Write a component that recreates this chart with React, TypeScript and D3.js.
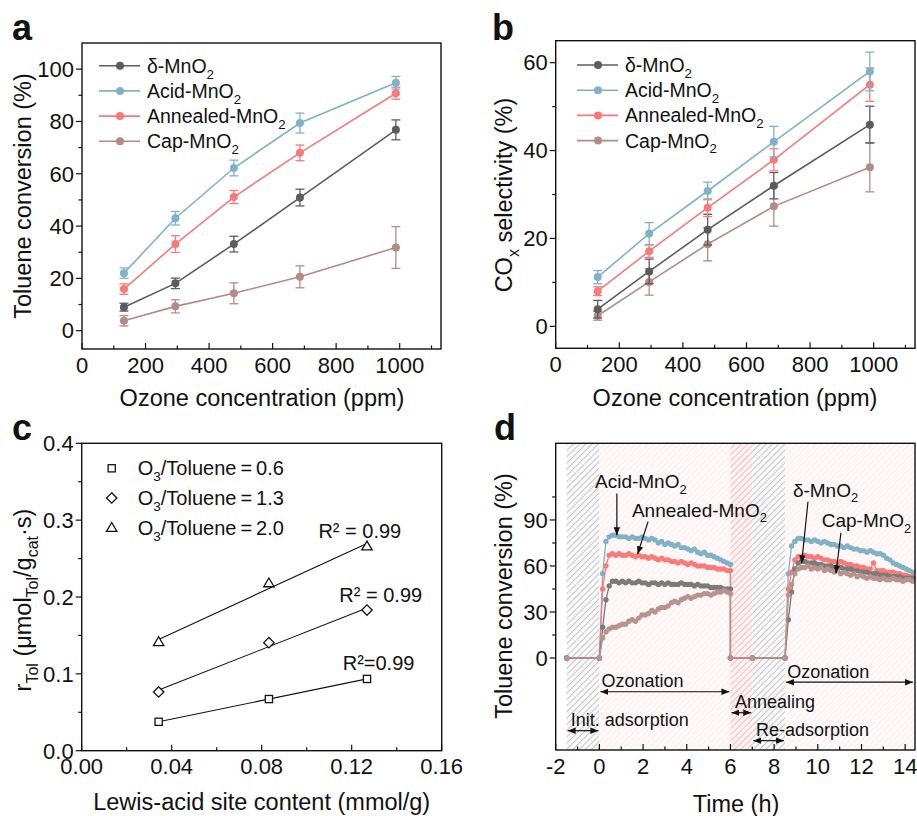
import React from "react";
import * as d3 from "d3";

const FONT = "'Liberation Sans', Arial, Helvetica, sans-serif";

// ---------------- Panel a / b data ----------------
const ozonePpm = [132, 294, 478, 686, 988];
const seriesNames = ["δ-MnO", "Acid-MnO", "Annealed-MnO", "Cap-MnO"];
const seriesColors = ["#5c5c5c", "#7fb2c8", "#f77a79", "#b38a85"];

const convDelta = [9, 18.1, 33.1, 50.9, 76.8];
const convDeltaErr = [1.5, 2, 3, 3.2, 3.8];
const convAcid = [22, 43, 62.2, 79.4, 94.8];
const convAcidErr = [2, 2.6, 3, 3.8, 2.4];
const convAnnealed = [15.9, 33.1, 51.1, 68, 90.8];
const convAnnealedErr = [2, 3.2, 2.5, 3, 2.3];
const convCap = [3.8, 9.3, 14.3, 20.6, 31.8];
const convCapErr = [2, 2.5, 4, 4.2, 8];

const selDelta = [3.9, 12.5, 22, 32, 45.9];
const selDeltaErr = [2, 2.8, 3.5, 3, 4.2];
const selAcid = [11.2, 21.1, 30.8, 42, 58];
const selAcidErr = [1.5, 2.5, 2, 3.5, 4.4];
const selAnnealed = [8, 17.1, 27, 37.9, 55];
const selAnnealedErr = [1, 1.4, 2, 2.5, 3.8];
const selCap = [2.4, 10.1, 18.7, 27.3, 36.2];
const selCapErr = [1, 3, 3.8, 4.5, 5.6];

const ozoneTicks = [0, 200, 400, 600, 800, 1000];
const ozoneMinor = [100, 300, 500, 700, 900, 1100];
const convTicks = [0, 20, 40, 60, 80, 100];
const convMinor = [10, 30, 50, 70, 90];
const selTicks = [0, 20, 40, 60];
const selMinor = [10, 30, 50];

// ---------------- Panel c data ----------------
const lewisAcid = [0.0342, 0.0832, 0.1268];
const rate06 = [0.0376, 0.0672, 0.0934];
const rate13 = [0.0764, 0.1406, 0.183];
const rate20 = [0.1415, 0.218, 0.266];
const ratioLabels = ["0.6", "1.3", "2.0"];
const r2Labels = ["R²=0.99", "R² = 0.99", "R² = 0.99"];
const lewisTicks = [0, 0.04, 0.08, 0.12, 0.16];
const lewisMinor = [0.02, 0.06, 0.1, 0.14];
const rateTicks = [0, 0.1, 0.2, 0.3, 0.4];
const rateMinor = [0.05, 0.15, 0.25, 0.35];

// ---------------- Panel d data ----------------
const tInit = [-1.5, 0];
const tIdle = [6, 7];
const tRun1 = [0, 0.15, 0.3, 0.45, 0.6, 0.75, 0.9, 1.05, 1.2, 1.35, 1.5, 1.65, 1.8, 1.95, 2.1, 2.25, 2.4, 2.55, 2.7, 2.85, 3, 3.15, 3.3, 3.45, 3.6, 3.75, 3.9, 4.05, 4.2, 4.35, 4.5, 4.65, 4.8, 4.95, 5.1, 5.25, 5.4, 5.55, 5.7, 5.85, 6];
const tRun2 = [8.5, 8.65, 8.8, 8.95, 9.1, 9.25, 9.4, 9.55, 9.7, 9.85, 10, 10.15, 10.3, 10.45, 10.6, 10.75, 10.9, 11.05, 11.2, 11.35, 11.5, 11.65, 11.8, 11.95, 12.1, 12.25, 12.4, 12.55, 12.7, 12.85, 13, 13.15, 13.3, 13.45, 13.6, 13.75, 13.9, 14.05, 14.2, 14.35];

const acidRun1 = [0, 55, 76, 79, 80, 80, 79, 79, 79, 78, 79, 78, 78, 79, 78, 77, 78, 77, 75, 76, 74, 75, 74, 73, 74, 72, 72, 71, 70, 71, 69, 68, 69, 67, 67, 66, 65, 64, 63, 62, 61];
const annealedRun1 = [0, 45, 60, 67, 68, 67, 68, 67, 67, 68, 67, 66, 67, 66, 66, 65, 66, 65, 64, 65, 64, 64, 63, 63, 62, 63, 62, 61, 62, 61, 60, 60, 60, 59, 59, 59, 58, 58, 58, 57, 57];
const deltaRun1 = [0, 20, 38, 47, 50, 50, 49, 50, 49, 50, 49, 49, 50, 49, 49, 48, 49, 49, 48, 49, 48, 49, 48, 48, 48, 49, 48, 48, 48, 47, 48, 47, 47, 47, 46, 46, 46, 46, 45, 45, 45];
const capRun1 = [0, 13, 17, 19, 20, 20, 21, 22, 22, 24, 25, 24, 26, 28, 28, 29, 31, 30, 32, 33, 33, 34, 36, 37, 36, 38, 39, 40, 39, 40, 41, 41, 42, 42, 41, 42, 43, 43, 44, 43, 42];

const acidRun2 = [0, 55, 73, 76, 78, 78, 77, 77, 76, 77, 76, 75, 76, 75, 74, 74, 73, 73, 72, 73, 72, 71, 71, 70, 70, 69, 70, 69, 68, 68, 67, 65, 64, 62, 61, 60, 59, 58, 57, 56];
const annealedRun2 = [0, 45, 56, 64, 66, 66, 67, 66, 66, 65, 66, 65, 64, 64, 63, 63, 62, 63, 62, 61, 61, 60, 60, 59, 59, 58, 58, 62, 57, 57, 57, 56, 56, 56, 55, 55, 54, 54, 53, 53];
const deltaRun2 = [0, 25, 43, 58, 62, 63, 63, 62, 62, 62, 61, 61, 60, 60, 60, 59, 59, 59, 58, 58, 58, 57, 57, 56, 56, 56, 55, 55, 55, 54, 54, 54, 53, 53, 53, 53, 52, 52, 52, 52];
const capRun2 = [0, 41, 48, 55, 58, 59, 59, 60, 58, 59, 58, 59, 57, 58, 57, 56, 57, 55, 56, 55, 54, 55, 53, 54, 53, 52, 53, 52, 52, 51, 52, 51, 51, 52, 51, 51, 50, 51, 51, 50];

const dColors = ["#7fb1c7", "#f87b7a", "#7b7b7b", "#b9928d"];
const timeTicks = [-2, 0, 2, 4, 6, 8, 10, 12, 14];
const timeMinor = [-1, 1, 3, 5, 7, 9, 11, 13];
const dTicks = [0, 30, 60, 90];
const dMinor = [15, 45, 75, 105];

// phases: [start, end, pattern]
const phaseStart = [-1.5, 0, 6, 7, 8.5];
const phaseEnd = [0, 6, 7, 8.5, 14.45];
const phaseFill = ["url(#hGray)", "url(#hPink)", "url(#hRed)", "url(#hGray)", "url(#hPink)"];

// ---------------- helpers ----------------
type Part = { t: string; sub?: boolean };

function Rich(props: {
  x: number; y: number; size: number; parts: Part[]; anchor?: string; rotate?: boolean; weight?: string;
}) {
  const { x, y, size, parts, anchor = "start", rotate = false, weight = "normal" } = props;
  let shift = 0;
  const spans = parts.map((p, i) => {
    const target = p.sub ? size * 0.3 : 0;
    const dy = target - shift;
    shift = target;
    return (
      <tspan key={i} dy={dy !== 0 ? dy : undefined} fontSize={p.sub ? size * 0.68 : size}>
        {p.t}
      </tspan>
    );
  });
  return (
    <text
      x={x}
      y={y}
      fontSize={size}
      fontFamily={FONT}
      fontWeight={weight}
      textAnchor={anchor as any}
      fill="#111"
      transform={rotate ? `rotate(-90 ${x} ${y})` : undefined}
    >
      {spans}
    </text>
  );
}

type Box = { l: number; t: number; r: number; b: number };

function Frame(props: {
  box: Box; x: any; y: any; xTicks: number[]; xMinor: number[]; yTicks: number[]; yMinor: number[];
  xFmt: (v: number) => string; yFmt: (v: number) => string;
}) {
  const { box, x, y, xTicks, xMinor, yTicks, yMinor, xFmt, yFmt } = props;
  const s = "#111";
  return (
    <g>
      <rect x={box.l} y={box.t} width={box.r - box.l} height={box.b - box.t} fill="none" stroke={s} strokeWidth={1.4} />
      {xTicks.map((v) => (
        <line key={"xt" + v} x1={x(v)} x2={x(v)} y1={box.b} y2={box.b - 6} stroke={s} strokeWidth={1.2} />
      ))}
      {xMinor.map((v) => (
        <line key={"xm" + v} x1={x(v)} x2={x(v)} y1={box.b} y2={box.b - 3.5} stroke={s} strokeWidth={1.2} />
      ))}
      {yTicks.map((v) => (
        <line key={"yt" + v} x1={box.l} x2={box.l - 6} y1={y(v)} y2={y(v)} stroke={s} strokeWidth={1.2} />
      ))}
      {yMinor.map((v) => (
        <line key={"ym" + v} x1={box.l} x2={box.l - 3.5} y1={y(v)} y2={y(v)} stroke={s} strokeWidth={1.2} />
      ))}
      {xTicks.map((v) => (
        <text key={"xl" + v} x={x(v)} y={box.b + 23.5} fontSize={22} fontFamily={FONT} textAnchor="middle" fill="#111">
          {xFmt(v)}
        </text>
      ))}
      {yTicks.map((v) => (
        <text key={"yl" + v} x={box.l - 8} y={y(v) + 7.8} fontSize={22} fontFamily={FONT} textAnchor="end" fill="#111">
          {yFmt(v)}
        </text>
      ))}
    </g>
  );
}

function ErrPanel(props: {
  box: Box; yDomain: [number, number]; yTicks: number[]; yMinor: number[];
  values: number[][]; errors: number[][]; legendX: number; legendY: number; legendStep: number;
}) {
  const { box, yDomain, yTicks, yMinor, values, errors, legendX, legendY, legendStep } = props;
  const x = d3.scaleLinear().domain([0, 1130]).range([box.l, box.r]);
  const y = d3.scaleLinear().domain(yDomain).range([box.b, box.t]);
  const line = d3.line<number>().x((_, i) => x(ozonePpm[i])).y((v) => y(v));
  const order = [3, 0, 2, 1];
  return (
    <g>
      <Frame box={box} x={x} y={y} xTicks={ozoneTicks} xMinor={ozoneMinor} yTicks={yTicks} yMinor={yMinor}
        xFmt={(v) => String(v)} yFmt={(v) => String(v)} />
      {order.map((si) => (
        <g key={si}>
          {values[si].map((v, i) => {
            const cx = x(ozonePpm[i]);
            const e = errors[si][i];
            return (
              <g key={i} stroke={seriesColors[si]} strokeWidth={1.3}>
                <line x1={cx} x2={cx} y1={y(v - e)} y2={y(v + e)} />
                <line x1={cx - 4.5} x2={cx + 4.5} y1={y(v - e)} y2={y(v - e)} />
                <line x1={cx - 4.5} x2={cx + 4.5} y1={y(v + e)} y2={y(v + e)} />
              </g>
            );
          })}
          <path d={line(values[si]) || ""} fill="none" stroke={seriesColors[si]} strokeWidth={1.6} />
          {values[si].map((v, i) => (
            <circle key={"c" + i} cx={x(ozonePpm[i])} cy={y(v)} r={4} fill={seriesColors[si]} />
          ))}
        </g>
      ))}
      {seriesNames.map((n, i) => {
        const ly = legendY + i * legendStep;
        return (
          <g key={"lg" + i}>
            <line x1={legendX} x2={legendX + 41} y1={ly} y2={ly} stroke={seriesColors[i]} strokeWidth={1.6} />
            <circle cx={legendX + 21} cy={ly} r={4} fill={seriesColors[i]} />
            <Rich x={legendX + 48} y={ly + 7} size={19.5} parts={[{ t: n }, { t: "2", sub: true }]} />
          </g>
        );
      })}
    </g>
  );
}

function fit(xs: number[], ys: number[]) {
  const mx = d3.mean(xs) as number;
  const my = d3.mean(ys) as number;
  let sxy = 0;
  let sxx = 0;
  xs.forEach((v, i) => {
    sxy += (v - mx) * (ys[i] - my);
    sxx += (v - mx) * (v - mx);
  });
  const k = sxy / sxx;
  return (v: number) => my + k * (v - mx);
}

function Marker({ kind, cx, cy }: { kind: number; cx: number; cy: number }) {
  const st = { fill: "white", stroke: "#111", strokeWidth: 1.3 };
  if (kind === 0) return <rect x={cx - 3.6} y={cy - 3.6} width={7.2} height={7.2} {...st} />;
  if (kind === 1)
    return <path d={`M${cx},${cy - 5.2}L${cx + 5.2},${cy}L${cx},${cy + 5.2}L${cx - 5.2},${cy}Z`} {...st} />;
  return <path d={`M${cx},${cy - 5.2}L${cx + 5.2},${cy + 3.6}L${cx - 5.2},${cy + 3.6}Z`} {...st} />;
}

function PanelC() {
  const box = { l: 81.7, t: 443.3, r: 441.7, b: 750.7 };
  const x = d3.scaleLinear().domain([0, 0.16]).range([box.l, box.r]);
  const y = d3.scaleLinear().domain([0, 0.4]).range([box.b, box.t]);
  const sets = [rate06, rate13, rate20];
  const r2Pos = [
    [0.116, 0.105],
    [0.1145, 0.1937],
    [0.1052, 0.277],
  ];
  return (
    <g>
      <Frame box={box} x={x} y={y} xTicks={lewisTicks} xMinor={lewisMinor} yTicks={rateTicks} yMinor={rateMinor}
        xFmt={(v) => v.toFixed(2)} yFmt={(v) => v.toFixed(1)} />
      {sets.map((s, k) => {
        const f = fit(lewisAcid, s);
        const x0 = lewisAcid[0];
        const x1 = lewisAcid[lewisAcid.length - 1];
        return (
          <g key={k}>
            <line x1={x(x0)} x2={x(x1)} y1={y(f(x0))} y2={y(f(x1))} stroke="#111" strokeWidth={1.1} />
            {s.map((v, i) => (
              <Marker key={i} kind={k} cx={x(lewisAcid[i])} cy={y(v)} />
            ))}
          </g>
        );
      })}
      {ratioLabels.map((r, i) => {
        const ly = 468.3 + i * 29.7;
        return (
          <g key={"cl" + i}>
            <Marker kind={i} cx={111.7} cy={ly} />
            <Rich x={137.7} y={ly + 7} size={20} parts={[{ t: "O" }, { t: "3", sub: true }, { t: "/Toluene\u2009=\u2009" + r }]} />
          </g>
        );
      })}
      {r2Labels.map((t, i) => (
        <text key={"r2" + i} x={x(r2Pos[i][0])} y={y(r2Pos[i][1])} fontSize={20} fontFamily={FONT} fill="#111">
          {t}
        </text>
      ))}
      <Rich x={31} y={600} size={23.5} rotate anchor="middle"
        parts={[{ t: "r" }, { t: "Tol", sub: true }, { t: " (μmol" }, { t: "Tol", sub: true }, { t: "/g" }, { t: "cat", sub: true }, { t: "·s)" }]} />
      <text x={261.7} y={810} fontSize={23.5} fontFamily={FONT} textAnchor="middle" fill="#111">
        Lewis-acid site content (mmol/g)
      </text>
    </g>
  );
}

function PanelD() {
  const box = { l: 555.7, t: 443.3, r: 915, b: 750 };
  const x = d3.scaleLinear().domain([-2, 14.45]).range([box.l, box.r]);
  const y = d3.scaleLinear().domain([-60, 140]).range([box.b, box.t]);
  const run1 = [acidRun1, annealedRun1, deltaRun1, capRun1];
  const run2 = [acidRun2, annealedRun2, deltaRun2, capRun2];
  const line = d3.line<[number, number]>().x((d) => x(d[0])).y((d) => y(d[1]));
  const pts = run1.map((r1, si) => {
    const p: [number, number][] = [];
    tInit.forEach((t) => p.push([t, 0]));
    r1.forEach((v, i) => p.push([tRun1[i], v]));
    tIdle.forEach((t) => p.push([t, 0]));
    run2[si].forEach((v, i) => p.push([tRun2[i], v]));
    return p;
  });
  const arrows = [
    { t0: 0, t1: 6, v: -22, label: "Ozonation", lt: 0.1, lv: -18.7 },
    { t0: 6, t1: 7, v: -35.7, label: "Annealing", lt: 6.21, lv: -32.6 },
    { t0: -1.5, t1: 0, v: -47.4, label: "Init. adsorption", lt: -1.31, lv: -44.3 },
    { t0: 7, t1: 8.5, v: -53.9, label: "Re-adsorption", lt: 7.17, lv: -50.9 },
    { t0: 8.5, t1: 14.4, v: -15.8, label: "Ozonation", lt: 8.6, lv: -13.2 },
  ];
  const callouts = [
    { name: "Acid-MnO", lt: -0.2, lv: 110.7, a: [0.8, 107.3, 0.8, 80] },
    { name: "Annealed-MnO", lt: 1.49, lv: 92.1, a: [2.23, 88.9, 1.75, 67.8] },
    { name: "δ-MnO", lt: 8.86, lv: 105.2, a: [9.55, 101.9, 9.26, 61.8] },
    { name: "Cap-MnO", lt: 10.18, lv: 85.2, a: [11.06, 81.7, 10.83, 55.2] },
  ];
  return (
    <g>
      {phaseStart.map((s, i) => (
        <rect key={"ph" + i} x={x(s)} y={box.t} width={x(phaseEnd[i]) - x(s)} height={box.b - box.t} fill={phaseFill[i]} />
      ))}
      {pts.map((p, si) => (
        <g key={"s" + si}>
          <path d={line(p) || ""} fill="none" stroke={dColors[si]} strokeWidth={1.3} />
          {p.map((d, i) => (
            <circle key={i} cx={x(d[0])} cy={y(d[1])} r={2.7} fill={dColors[si]} />
          ))}
        </g>
      ))}
      <Frame box={box} x={x} y={y} xTicks={timeTicks} xMinor={timeMinor} yTicks={dTicks} yMinor={dMinor}
        xFmt={(v) => String(v)} yFmt={(v) => String(v)} />
      {arrows.map((a, i) => (
        <g key={"ar" + i}>
          <line x1={x(a.t0) + 1} x2={x(a.t1) - 1} y1={y(a.v)} y2={y(a.v)} stroke="#111" strokeWidth={1.2}
            markerStart="url(#arrS)" markerEnd="url(#arrE)" />
          <text x={x(a.lt)} y={y(a.lv)} fontSize={18} fontFamily={FONT} fill="#111">
            {a.label}
          </text>
        </g>
      ))}
      {callouts.map((c, i) => (
        <g key={"co" + i}>
          <Rich x={x(c.lt)} y={y(c.lv)} size={19} parts={[{ t: c.name }, { t: "2", sub: true }]} />
          <line x1={x(c.a[0])} y1={y(c.a[1])} x2={x(c.a[2])} y2={y(c.a[3])} stroke="#111" strokeWidth={1.2} markerEnd="url(#arrE)" />
        </g>
      ))}
      <Rich x={512} y={596} size={23.5} rotate anchor="middle" parts={[{ t: "Toluene conversion (%)" }]} />
      <text x={736} y={812} fontSize={23.5} fontFamily={FONT} textAnchor="middle" fill="#111">
        Time (h)
      </text>
    </g>
  );
}

export default function App() {
  const boxA = { l: 82, t: 43, r: 441, b: 349 };
  const boxB = { l: 555.7, t: 40.7, r: 915, b: 348.3 };
  return (
    <svg width={917} height={816} style={{ position: "absolute", left: 0, top: 0, background: "white" }}>
      <defs>
        <pattern id="hGray" patternUnits="userSpaceOnUse" width={4.4} height={4.4} patternTransform="rotate(45)">
          <rect width={4.4} height={4.4} fill="#fafafa" />
          <line x1={2.2} x2={2.2} y1={0} y2={4.4} stroke="#c6c6c6" strokeWidth={1.1} />
        </pattern>
        <pattern id="hPink" patternUnits="userSpaceOnUse" width={4.4} height={4.4} patternTransform="rotate(45)">
          <rect width={4.4} height={4.4} fill="#fffafa" />
          <line x1={2.2} x2={2.2} y1={0} y2={4.4} stroke="#fcecec" strokeWidth={1} />
        </pattern>
        <pattern id="hRed" patternUnits="userSpaceOnUse" width={4.4} height={4.4} patternTransform="rotate(45)">
          <rect width={4.4} height={4.4} fill="#fff5f5" />
          <line x1={2.2} x2={2.2} y1={0} y2={4.4} stroke="#f8baba" strokeWidth={1.1} />
        </pattern>
        <marker id="arrE" viewBox="0 0 10 10" refX={10} refY={5} markerWidth={8} markerHeight={8} orient="auto" markerUnits="userSpaceOnUse">
          <path d="M0,1L10,5L0,9Z" fill="#111" />
        </marker>
        <marker id="arrS" viewBox="0 0 10 10" refX={0} refY={5} markerWidth={8} markerHeight={8} orient="auto" markerUnits="userSpaceOnUse">
          <path d="M10,1L0,5L10,9Z" fill="#111" />
        </marker>
      </defs>

      {/* Panel a */}
      <text x={12} y={40} fontSize={36} fontWeight="bold" fontFamily={FONT} fill="#111">a</text>
      <ErrPanel box={boxA} yDomain={[-7, 110]} yTicks={convTicks} yMinor={convMinor}
        values={[convDelta, convAcid, convAnnealed, convCap]}
        errors={[convDeltaErr, convAcidErr, convAnnealedErr, convCapErr]}
        legendX={99} legendY={65.7} legendStep={25.2} />
      <Rich x={31} y={196} size={23.5} rotate anchor="middle" parts={[{ t: "Toluene conversion (%)" }]} />
      <text x={262} y={406} fontSize={23.5} fontFamily={FONT} textAnchor="middle" fill="#111">
        Ozone concentration (ppm)
      </text>

      {/* Panel b */}
      <text x={492} y={40} fontSize={36} fontWeight="bold" fontFamily={FONT} fill="#111">b</text>
      <ErrPanel box={boxB} yDomain={[-5, 65]} yTicks={selTicks} yMinor={selMinor}
        values={[selDelta, selAcid, selAnnealed, selCap]}
        errors={[selDeltaErr, selAcidErr, selAnnealedErr, selCapErr]}
        legendX={577} legendY={65} legendStep={25.2} />
      <Rich x={512} y={195} size={23.5} rotate anchor="middle" parts={[{ t: "CO" }, { t: "x", sub: true }, { t: " selectivity (%)" }]} />
      <text x={735} y={406} fontSize={23.5} fontFamily={FONT} textAnchor="middle" fill="#111">
        Ozone concentration (ppm)
      </text>

      {/* Panel c */}
      <text x={12} y={440} fontSize={36} fontWeight="bold" fontFamily={FONT} fill="#111">c</text>
      <PanelC />

      {/* Panel d */}
      <text x={494} y={440} fontSize={36} fontWeight="bold" fontFamily={FONT} fill="#111">d</text>
      <PanelD />
    </svg>
  );
}
